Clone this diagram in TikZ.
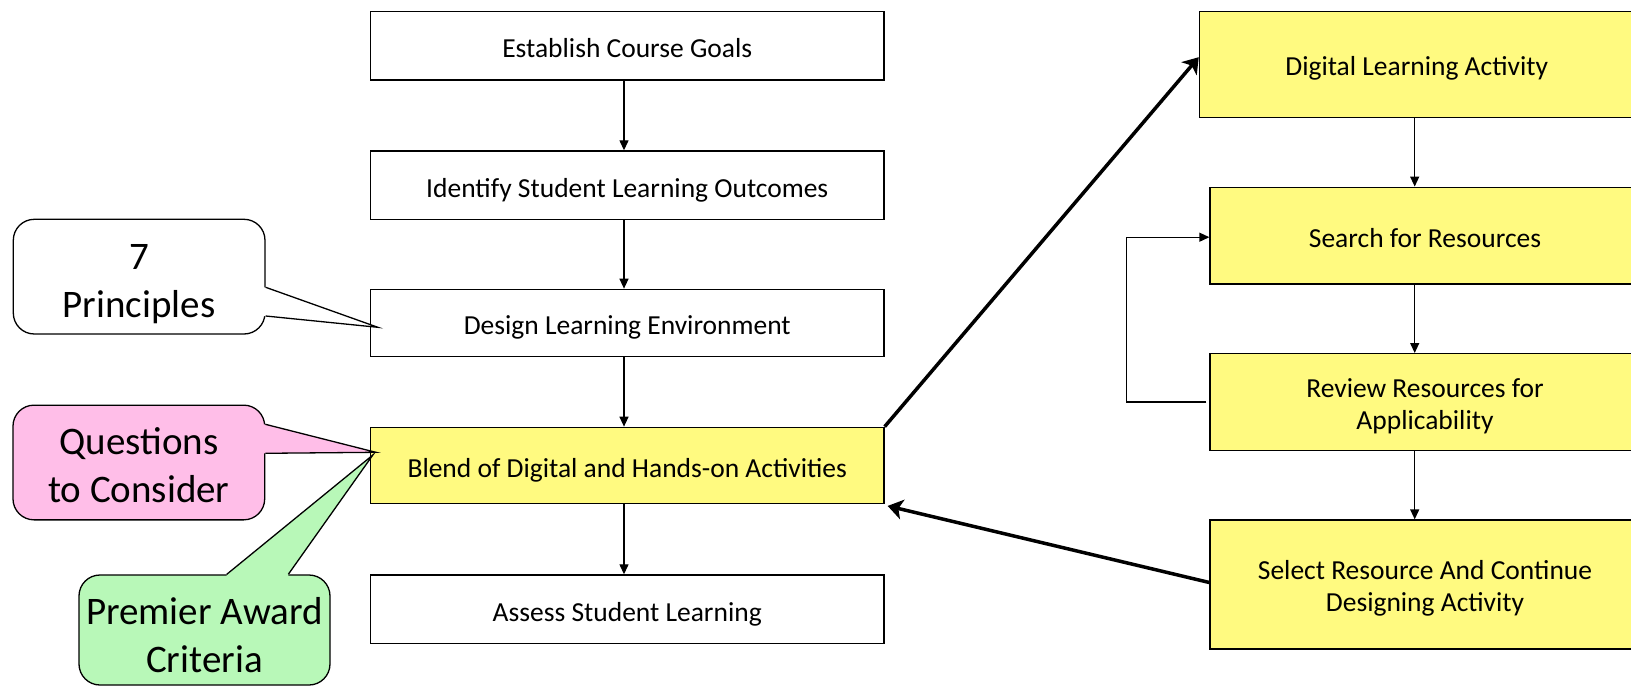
\documentclass[tikz,border=0pt]{standalone}
\usepackage{fontspec}
\setmainfont{Carlito}
\usetikzlibrary{arrows.meta,calc}

\definecolor{boxyellow}{RGB}{255,250,128}
\definecolor{notepink}{RGB}{255,190,232}
\definecolor{notegreen}{RGB}{184,248,184}

% centred lines whose first baseline sits #1 above the middle of the box
\newcommand\placetext[2]{\raisebox{#1}[0pt][0pt]{\begin{tabular}[t]{@{}c@{}}#2\end{tabular}}}

\tikzset{
  stepbox/.style={draw=black, line width=1.3pt, fill=white, rectangle,
    inner sep=0pt, font=\fontsize{27.5}{32}\selectfont},
  leftbox/.style={stepbox, minimum width=513.5pt, minimum height=68.5pt},
  hotbox/.style={stepbox, fill=boxyellow},
  rightbox/.style={hotbox, minimum width=430pt},
  note/.style={draw=black, line width=1.3pt, rounded corners=21pt,
    inner sep=0pt, minimum width=251.7pt, minimum height=114.7pt,
    font=\fontsize{39}{48}\selectfont},
  flow/.style={draw=black, line width=1.3pt, -{Triangle[length=10pt,width=9pt]}},
  bigflow/.style={draw=black, line width=3.5pt, -{Stealth[length=15pt,width=20pt,inset=4pt]}},
  tail/.style={draw=black, line width=1.3pt, line join=miter},
}

\begin{document}
\begin{tikzpicture}[x=1pt, y=-1pt]
  \clip (0,0) rectangle (1631,687);

  % left column: course design steps
  \node[leftbox] (goals)    at (627.25,45.7)  {\placetext{-12pt}{Establish Course Goals}};
  \node[leftbox] (outcomes) at (627.25,185.2) {\placetext{-12pt}{Identify Student Learning Outcomes}};
  \node[leftbox, minimum height=67.4pt] (design) at (627.25,323) {\placetext{-12pt}{Design Learning Environment}};
  \node[leftbox, hotbox, minimum height=76pt] (blend) at (627.25,465.3) {\placetext{-12pt}{Blend of Digital and Hands-on Activities}};
  \node[leftbox] (assess)   at (627.25,609.2) {\placetext{-12pt}{Assess Student Learning}};

  % right column: building a digital activity
  \node[rightbox, minimum height=106pt, minimum width=434.6pt] (digital) at (1416.7,64.5) {\placetext{-11.2pt}{Digital Learning Activity}};
  \node[rightbox, minimum height=96.8pt] (search) at (1425,235.6) {\placetext{-11.7pt}{Search for Resources}};
  \node[rightbox, minimum height=96.7pt] (review) at (1425,402)   {\placetext{4.7pt}{Review Resources for\\Applicability}};
  \node[rightbox, minimum height=129pt]  (select) at (1425,584.5) {\placetext{4.7pt}{Select Resource And Continue\\Designing Activity}};

  % arrow axes of the two columns and the return loop
  \coordinate (lc) at (624,0);
  \coordinate (rc) at (1414.7,0);
  \coordinate (fb) at (1126.5,300);

  \draw[flow] (goals.south -| lc)    -- (outcomes.north -| lc);
  \draw[flow] (outcomes.south -| lc) -- (design.north -| lc);
  \draw[flow] (design.south -| lc)   -- (blend.north -| lc);
  \draw[flow] (blend.south -| lc)    -- (assess.north -| lc);

  \draw[flow] (digital.south -| rc) -- (search.north -| rc);
  \draw[flow] (search.south -| rc)  -- (review.north -| rc);
  \draw[flow] (review.south -| rc)  -- (select.north -| rc);

  \draw[flow] ($(review.west)+(-3,0)$) -| (fb) |- ($(search.west)+(0,1.6)$);

  \draw[bigflow] (blend.north east) -- ($(digital.west)+(0,-7.3)$);
  \draw[bigflow] ($(select.west)+(0,-2)$) -- ($(blend.south east)+(3,2)$);

  % callout: 7 Principles
  \node[note, fill=white] (principles) at (139.15,276.65) {\placetext{7.4pt}{7\\Principles}};
  \fill[white] (263,287.3) -- (265,287.3) -- ($(design.west)+(8,4.3)$) -- (265,316) -- (263,316) -- cycle;
  \draw[tail] (principles.east |- 0,287.3) -- ($(design.west)+(8,4.3)$) -- (principles.east |- 0,316);

  % callout: Questions to Consider
  \node[note, fill=notepink] (questions) at (138.85,462.5) {\placetext{8pt}{Questions\\to Consider}};
  \fill[notepink] (263,424.3) -- (265,424.3) -- ($(blend.west)+(6,-13)$) -- (265,453.3) -- (263,453.3) -- cycle;
  \draw[tail] (questions.east |- 0,424.3) -- ($(blend.west)+(6,-13)$) -- (questions.east |- 0,453.3);

  % callout: Premier Award Criteria
  \node[note, fill=notegreen, minimum width=251pt, minimum height=110pt] (premier) at (204.5,630) {\placetext{6pt}{Premier Award\\Criteria}};
  \fill[notegreen] (226.7,577) -- (226.7,575) -- ($(blend.west)+(3,-10.3)$) -- (288.3,575) -- (288.3,577) -- cycle;
  \draw[tail] (premier.north -| 226.7,0) -- ($(blend.west)+(3,-10.3)$) -- (premier.north -| 288.3,0);
\end{tikzpicture}
\end{document}
